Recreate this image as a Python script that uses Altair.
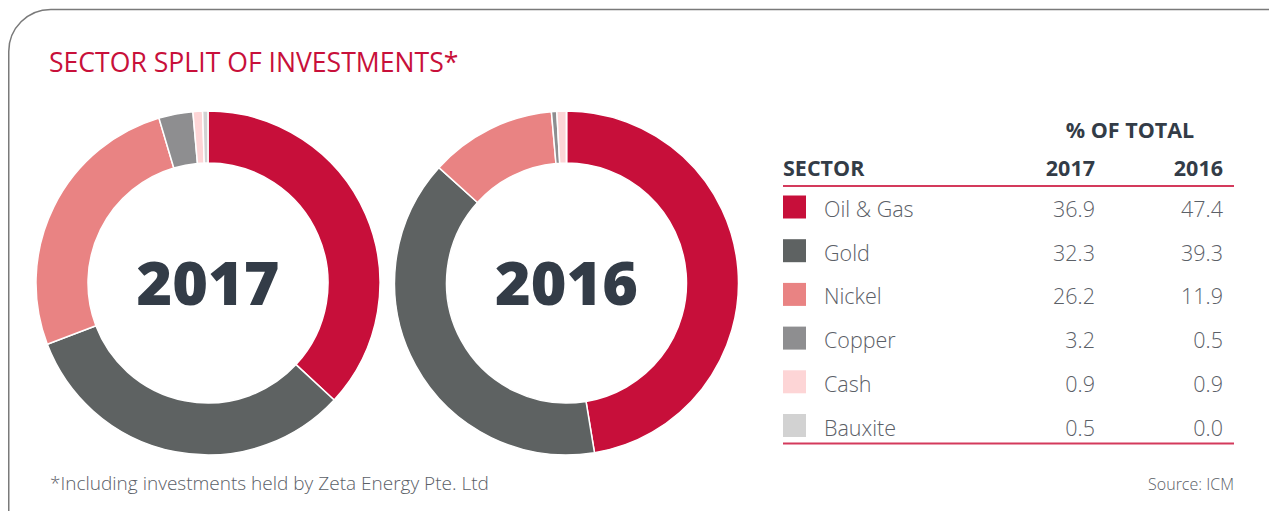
import altair as alt
import pandas as pd

sectors = ["Oil & Gas", "Gold", "Nickel", "Copper", "Cash", "Bauxite"]
colors = ["#C70F3A", "#5E6262", "#E98383", "#8E8E90", "#FDD5D6", "#D2D2D2"]
v2017 = [36.9, 32.3, 26.2, 3.2, 0.9, 0.5]
v2016 = [47.4, 39.3, 11.9, 0.5, 0.9, 0.0]
years = ["2017", "2016"]

FONT = "Open Sans"
DARK = "#333C47"
GREY = "#5B6067"
RED = "#C8103A"

table = pd.DataFrame({
    "sector": sectors,
    "order": list(range(len(sectors))),
    "v2017": v2017,
    "v2016": v2016,
})
long = pd.concat([
    pd.DataFrame({"sector": sectors, "order": list(range(len(sectors))), "value": v2017, "year": "2017"}),
    pd.DataFrame({"sector": sectors, "order": list(range(len(sectors))), "value": v2016, "year": "2016"}),
])

color = alt.Color("sector:N", scale=alt.Scale(domain=sectors, range=colors), legend=None)
base_long = alt.Chart(long)
base_tab = alt.Chart(table)
one = alt.Chart(pd.DataFrame({"k": [0]}))

centers = {"2017": 200, "2016": 558.5}
CY = 275
HS = 21.5  # header size
RS = 21.5  # row text size

layers = []

# frame with rounded top-left corner
layers.append(one.mark_rect(cornerRadiusTopLeft=42, fill=None, stroke="#7A7A7A", strokeWidth=1.5).encode(
    x=alt.value(0.75), x2=alt.value(1500), y=alt.value(1.5), y2=alt.value(800)))

# title
layers.append(one.mark_text(text="SECTOR SPLIT OF INVESTMENTS*", font=FONT, fontSize=26.6, color=RED,
                            align="left", baseline="alphabetic").encode(x=alt.value(41), y=alt.value(64)))

# donuts
for yr in years:
    layers.append(base_long.transform_filter(alt.datum.year == yr).mark_arc(
        outerRadius=172, innerRadius=120, stroke="white", strokeWidth=1.5).encode(
        theta=alt.Theta("value:Q", stack=True),
        order=alt.Order("order:Q"),
        color=color,
        x=alt.value(centers[yr]), y=alt.value(CY)))
    layers.append(one.mark_text(text=yr, font=FONT, fontSize=61, fontWeight=800, color=DARK,
                                align="center", baseline="alphabetic").encode(
        x=alt.value(centers[yr]), y=alt.value(297)))

# table header
layers.append(one.mark_text(text="% OF TOTAL", font=FONT, fontSize=HS, fontWeight="bold", color=DARK,
                            align="center", baseline="alphabetic").encode(x=alt.value(1122), y=alt.value(130)))
layers.append(one.mark_text(text="SECTOR", font=FONT, fontSize=HS, fontWeight="bold", color=DARK,
                            align="left", baseline="alphabetic").encode(x=alt.value(775), y=alt.value(168)))
layers.append(one.mark_text(text="2017", font=FONT, fontSize=HS, fontWeight="bold", color=DARK,
                            align="right", baseline="alphabetic").encode(x=alt.value(1087), y=alt.value(168)))
layers.append(one.mark_text(text="2016", font=FONT, fontSize=HS, fontWeight="bold", color=DARK,
                            align="right", baseline="alphabetic").encode(x=alt.value(1215), y=alt.value(168)))
for ly in [178, 435.5]:
    layers.append(one.mark_rule(color="#D43A5C", strokeWidth=2).encode(
        x=alt.value(775), x2=alt.value(1226), y=alt.value(ly)))

rowy = alt.Y("sector:N", sort=sectors, scale=alt.Scale(type="point", domain=sectors, range=[199, 417.5], padding=0),
             axis=None)

layers.append(base_tab.mark_square(size=529, opacity=1).encode(x=alt.value(786.5), y=rowy, color=color))
layers.append(base_tab.mark_text(font=FONT, fontSize=RS, fontWeight=300, color=GREY, align="left",
                                 baseline="alphabetic", dy=10).encode(
    x=alt.value(816), y=rowy, text="sector:N"))
layers.append(base_tab.mark_text(font=FONT, fontSize=RS, fontWeight=300, color=GREY, align="right",
                                 baseline="alphabetic", dy=10).encode(
    x=alt.value(1087), y=rowy, text=alt.Text("v2017:Q", format=".1f")))
layers.append(base_tab.mark_text(font=FONT, fontSize=RS, fontWeight=300, color=GREY, align="right",
                                 baseline="alphabetic", dy=10).encode(
    x=alt.value(1215), y=rowy, text=alt.Text("v2016:Q", format=".1f")))

# footnotes
layers.append(one.mark_text(text="*Including investments held by Zeta Energy Pte. Ltd", font=FONT, fontSize=19,
                            fontWeight=300, color=GREY, align="left", baseline="alphabetic").encode(
    x=alt.value(42), y=alt.value(482)))
layers.append(one.mark_text(text="Source: ICM", font=FONT, fontSize=16, fontWeight=300, color=GREY,
                            align="right", baseline="alphabetic").encode(x=alt.value(1226), y=alt.value(482)))

chart = alt.layer(*layers).resolve_scale(theta="independent").properties(
    width=1261, height=503, padding=0, autosize=alt.AutoSizeParams(type="none")
).configure_view(strokeWidth=0)

chart.save("out.html", embed_options={"renderer": "svg", "actions": False})
